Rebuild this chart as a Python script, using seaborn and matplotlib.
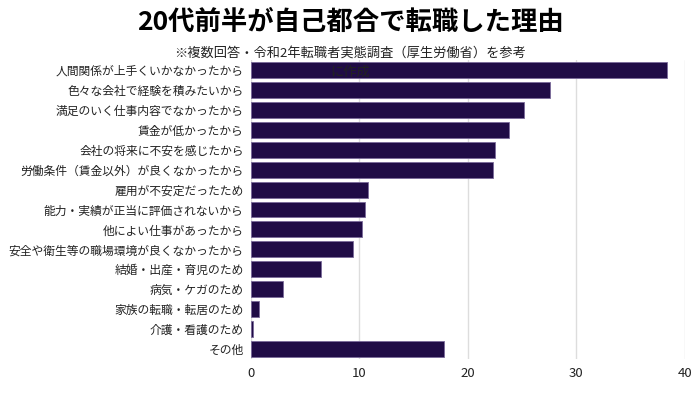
import matplotlib
matplotlib.use("Agg")
import matplotlib.pyplot as plt
import seaborn as sns
import pandas as pd

reasons = [
    "人間関係が上手くいかなかったから",
    "色々な会社で経験を積みたいから",
    "満足のいく仕事内容でなかったから",
    "賃金が低かったから",
    "会社の将来に不安を感じたから",
    "労働条件（賃金以外）が良くなかったから",
    "雇用が不安定だったため",
    "能力・実績が正当に評価されないから",
    "他によい仕事があったから",
    "安全や衛生等の職場環境が良くなかったから",
    "結婚・出産・育児のため",
    "病気・ケガのため",
    "家族の転職・転居のため",
    "介護・看護のため",
    "その他",
]
percent = [38.4, 27.6, 25.2, 23.8, 22.5, 22.3, 10.8, 10.5, 10.3, 9.4, 6.5, 3.0, 0.8, 0.2, 17.8]
xticks = [0, 10, 20, 30, 40]

df = pd.DataFrame({"reason": reasons, "percent": percent})

sns.set_style("white")
plt.rcParams['font.family'] = ['Noto Sans CJK JP', 'DejaVu Sans']

fig = plt.figure(figsize=(7, 3.93), dpi=100)
ax = fig.add_axes([0.358, 0.087, 0.62, 0.76])

sns.barplot(data=df, x="percent", y="reason", color="#200c46", saturation=1,
            edgecolor="#7a6a9a", linewidth=0.6, width=0.8, ax=ax, zorder=3)

ax.set_xlim(0, 40)
ax.set_xticks(xticks)
ax.xaxis.grid(True, color="#dddddd", linewidth=1, zorder=0)
ax.set_axisbelow(True)
for s in ax.spines.values():
    s.set_visible(False)
ax.set_xlabel("")
ax.set_ylabel("")
ax.tick_params(axis="both", length=0, colors="#222222")
ax.tick_params(axis="y", labelsize=8.5, pad=5)
ax.tick_params(axis="x", labelsize=9.5, pad=6)

fig.text(0.5, 0.944, "20代前半が自己都合で転職した理由", ha="center", va="center",
         fontsize=19, fontweight="bold", color="black")
# subtitle wraps; second line sits on top of the first bar, as in the original
fig.text(0.5, 0.866, "※複数回答・令和2年転職者実態調査（厚生労働省）を参考",
         ha="center", va="center", fontsize=9.5, color="#222222", zorder=10)
fig.text(0.5, 0.815, "に作成",
         ha="center", va="center", fontsize=9.5, color="#222222", zorder=10)

fig.savefig("out.png", dpi=100)
